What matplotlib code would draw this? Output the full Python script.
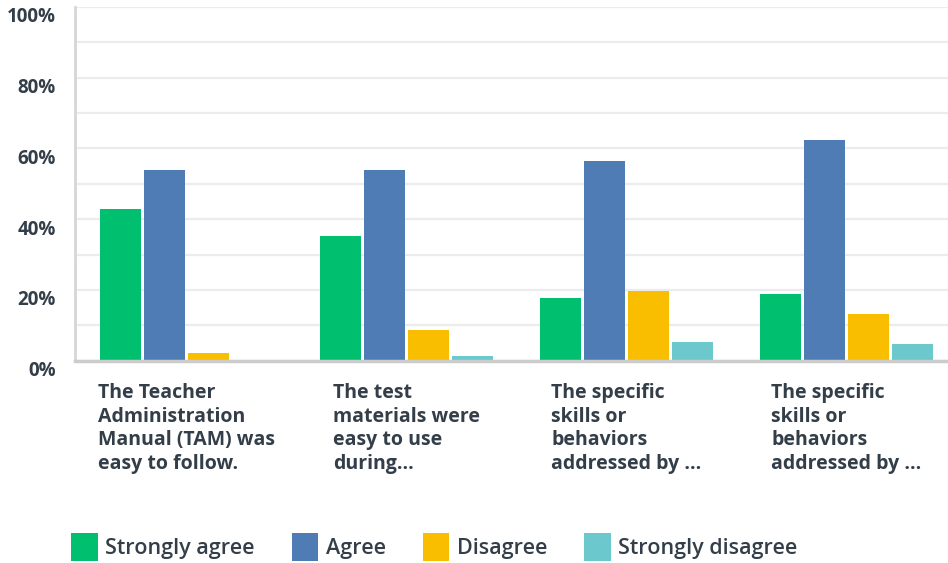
import matplotlib.pyplot as plt
import matplotlib.transforms as mtransforms
from matplotlib.patches import Patch
import numpy as np

questions = ['The Teacher\nAdministration\nManual (TAM) was\neasy to follow.',
             'The test\nmaterials were\neasy to use\nduring...',
             'The specific\nskills or\nbehaviors\naddressed by ...',
             'The specific\nskills or\nbehaviors\naddressed by ...']
answers = ['Strongly agree', 'Agree', 'Disagree', 'Strongly disagree']
strongly_agree = [42.9, 35.2, 17.7, 18.8]
agree = [53.9, 53.9, 56.4, 62.3]
disagree = [2.3, 8.7, 19.7, 13.2]
strongly_disagree = [0.3, 1.3, 5.3, 4.7]
colors = ['#00bf6f', '#507cb6', '#f9be00', '#6bc8cd']
TXT = '#333e48'

plt.rcParams['font.family'] = ['Open Sans', 'DejaVu Sans']

fig = plt.figure(figsize=(9.48, 5.63), dpi=100)
ax = fig.add_axes([75/948, 202.3/563, 873/948, 354/563])

series = [strongly_agree, agree, disagree, strongly_disagree]
x = np.arange(len(questions))
for j, vals in enumerate(series):
    ax.bar(x + (j - 1.5) * 0.2, vals, width=0.188, color=colors[j], zorder=3)

ax.set_xlim(-0.507, -0.507 + 873/220)
ax.set_ylim(0, 100)
ax.set_yticks(np.arange(0, 101, 20))
ax.set_yticks(np.arange(10, 100, 20), minor=True)
ax.yaxis.grid(True, which='both', color='#ececec', linewidth=1.6, zorder=0)
ax.set_yticklabels(['0%', '20%', '40%', '60%', '80%', '100%'],
                   fontsize=13.5, fontweight='bold', color=TXT)
ax.tick_params(axis='y', which='both', length=0, pad=14)
off = mtransforms.ScaledTranslation(0, -0.08, fig.dpi_scale_trans)
for lbl in ax.get_yticklabels():
    lbl.set_transform(lbl.get_transform() + off)

ax.set_xticks(x)
ax.set_xticklabels(questions, fontsize=14, fontweight='bold', color=TXT,
                   ha='center', va='top', multialignment='left', linespacing=1.25)
ax.tick_params(axis='x', length=0, pad=16)

for s in ['top', 'right']:
    ax.spines[s].set_visible(False)
ax.spines['left'].set_color('#d6d6d6')
ax.spines['left'].set_linewidth(2)
ax.spines['bottom'].set_color('#cccccc')
ax.spines['bottom'].set_linewidth(2.5)
ax.spines['bottom'].set_zorder(4)

handles = [Patch(facecolor=c, edgecolor='none') for c in colors]
leg = fig.legend(handles, answers, loc='center left', bbox_to_anchor=(71/948, (563 - 547)/563),
                 ncol=4, frameon=False, fontsize=15.5, handlelength=1.25, handleheight=1.6,
                 handletextpad=0.35, columnspacing=1.7, borderaxespad=0,
                 borderpad=0)
for t in leg.get_texts():
    t.set_color(TXT)
    t.set_fontweight('semibold')

fig.savefig('out.png', dpi=100)
